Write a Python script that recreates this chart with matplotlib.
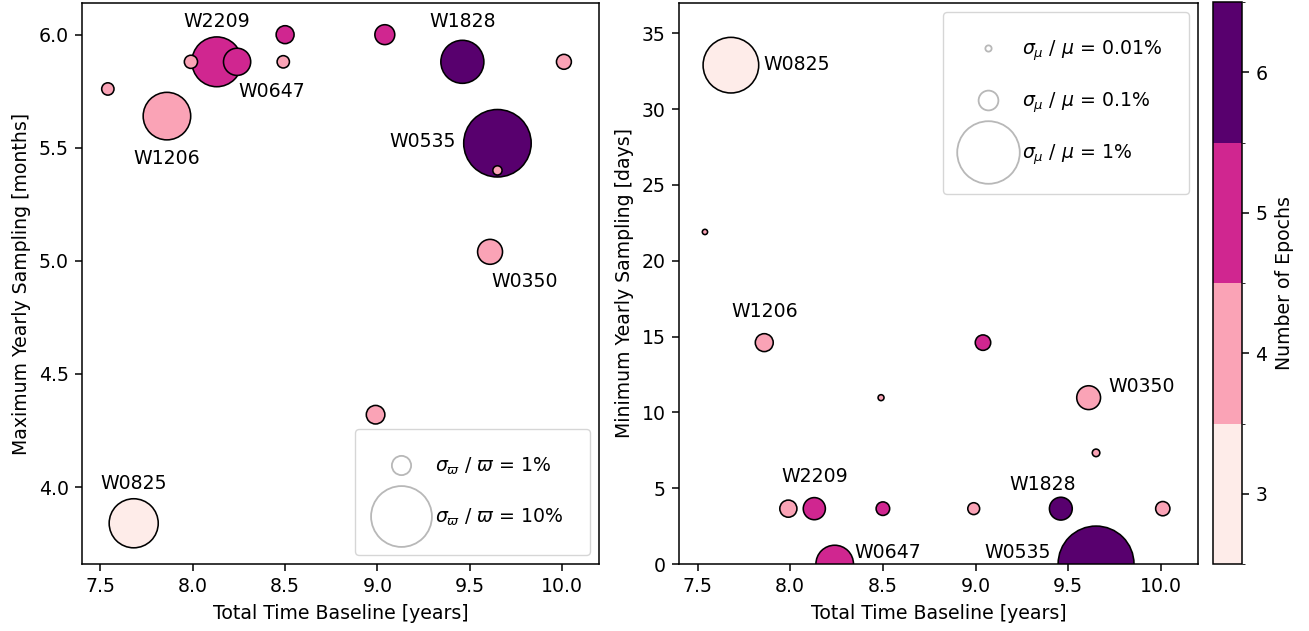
import numpy as np
import matplotlib
matplotlib.use("Agg")
import matplotlib.pyplot as plt
from matplotlib.colors import ListedColormap, BoundaryNorm
from matplotlib.lines import Line2D

plt.rcParams.update({
    "font.size": 13.6,
    "axes.linewidth": 1.1,
    "axes.labelpad": 5.5,
    "xtick.major.size": 4.8, "ytick.major.size": 4.8,
    "xtick.major.width": 1.1, "ytick.major.width": 1.1,
    "xtick.major.pad": 4.8, "ytick.major.pad": 4.8,
})

# data
baseline = [7.54, 7.68, 7.86, 7.99, 8.13, 8.24, 8.49, 8.50, 8.99, 9.04, 9.46, 9.61, 9.65, 9.65, 10.01]
max_samp = [5.76, 3.84, 5.64, 5.88, 5.88, 5.88, 5.88, 6.00, 4.32, 6.00, 5.88, 5.04, 5.52, 5.40, 5.88]
min_samp = [21.9, 32.9, 14.6, 3.65, 3.65, 0.0, 10.97, 3.65, 3.65, 14.6, 3.65, 10.97, 0.0, 7.33, 3.65]
epochs = [4, 3, 4, 4, 5, 5, 4, 5, 4, 5, 6, 4, 6, 4, 4]
plx_err_pct = [0.41, 6.5, 6.1, 0.47, 6.7, 2.0, 0.41, 0.87, 0.93, 1.07, 5.0, 1.68, 12.3, 0.23, 0.60]
pm_err_pct = [0.0071, 0.79, 0.082, 0.075, 0.125, 0.36, 0.0091, 0.047, 0.036, 0.061, 0.133, 0.145, 1.47, 0.0146, 0.052]
names = ["", "W0825", "W1206", "", "W2209", "W0647", "", "", "", "", "W1828", "W0350", "W0535", "", ""]

# label offsets in pixels (dx, dy, ha)
left_off = {"W2209": (0, 40, "center"), "W0647": (35, -30, "center"), "W1206": (0, -42, "center"),
            "W1828": (0, 40, "center"), "W0535": (-42, 2, "right"), "W0350": (35, -30, "center"),
            "W0825": (0, 40, "center")}
right_off = {"W0825": (32, 1, "left"), "W1206": (0, 31, "center"), "W0350": (20, 11, "left"),
             "W2209": (0, 32, "center"), "W1828": (-18, 24, "center"), "W0647": (20, 12, "left"),
             "W0535": (-45, 12, "right")}

colors = plt.cm.RdPu([0.06, 0.36, 0.66, 0.96])
cmap = ListedColormap(colors)
norm = BoundaryNorm([2.5, 3.5, 4.5, 5.5, 6.5], cmap.N)

k_left = 192
k_right = 2030

x = np.array(baseline)
ep = np.array(epochs)
order = np.argsort(-np.array(plx_err_pct))
order_r = np.argsort(-np.array(pm_err_pct))

W, H = 1309, 631
fig = plt.figure(figsize=(W / 100, H / 100), dpi=100)


def px_axes(x0, y0, x1, y1):
    return fig.add_axes([x0 / W, 1 - y1 / H, (x1 - x0) / W, (y1 - y0) / H])


ax1 = px_axes(82, 3, 599, 564)
ax2 = px_axes(679, 3, 1198, 564)
cax = px_axes(1213, 2, 1242, 564)

# left panel
ax1.scatter(x[order], np.array(max_samp)[order], s=k_left * np.array(plx_err_pct)[order],
            c=ep[order], cmap=cmap, norm=norm, edgecolors="k", linewidths=1.15)
for i, nm in enumerate(names):
    if nm:
        dx, dy, ha = left_off[nm]
        ax1.annotate(nm, (baseline[i], max_samp[i]), xytext=(dx, dy), textcoords="offset pixels",
                     ha=ha, va="center")
ax1.set_xlim(7.4, 10.2)
ax1.set_ylim(3.66, 6.14)
ax1.set_yticks([4.0, 4.5, 5.0, 5.5, 6.0])
ax1.set_xlabel("Total Time Baseline [years]")
ax1.set_ylabel("Maximum Yearly Sampling [months]")
h1 = [Line2D([], [], ls="none", marker="o", markersize=np.sqrt(k_left * p), markerfacecolor="none",
             markeredgecolor="0.72", markeredgewidth=1.3) for p in [1, 10]]
ax1.legend(h1, [r"$\sigma_\varpi$ / $\varpi$ = 1%", r"$\sigma_\varpi$ / $\varpi$ = 10%"],
           loc="lower right", borderpad=1.4, labelspacing=1.6)

# right panel
ax2.scatter(x[order_r], np.array(min_samp)[order_r], s=k_right * np.array(pm_err_pct)[order_r],
            c=ep[order_r], cmap=cmap, norm=norm, edgecolors="k", linewidths=1.15)
for i, nm in enumerate(names):
    if nm:
        dx, dy, ha = right_off[nm]
        ax2.annotate(nm, (baseline[i], min_samp[i]), xytext=(dx, dy), textcoords="offset pixels",
                     ha=ha, va="center")
ax2.set_xlim(7.4, 10.2)
ax2.set_ylim(0, 37)
ax2.set_xlabel("Total Time Baseline [years]")
ax2.set_ylabel("Minimum Yearly Sampling [days]")
h2 = [Line2D([], [], ls="none", marker="o", markersize=np.sqrt(k_right * p), markerfacecolor="none",
             markeredgecolor="0.72", markeredgewidth=1.3) for p in [0.01, 0.1, 1]]
ax2.legend(h2, [r"$\sigma_\mu$ / $\mu$ = 0.01%", r"$\sigma_\mu$ / $\mu$ = 0.1%", r"$\sigma_\mu$ / $\mu$ = 1%"],
           loc="upper right", borderpad=1.4, labelspacing=1.45)

sm = plt.cm.ScalarMappable(cmap=cmap, norm=norm)
cb = fig.colorbar(sm, cax=cax, ticks=[3, 4, 5, 6])
cb.set_label("Number of Epochs")

fig.savefig("out.png", dpi=100)
